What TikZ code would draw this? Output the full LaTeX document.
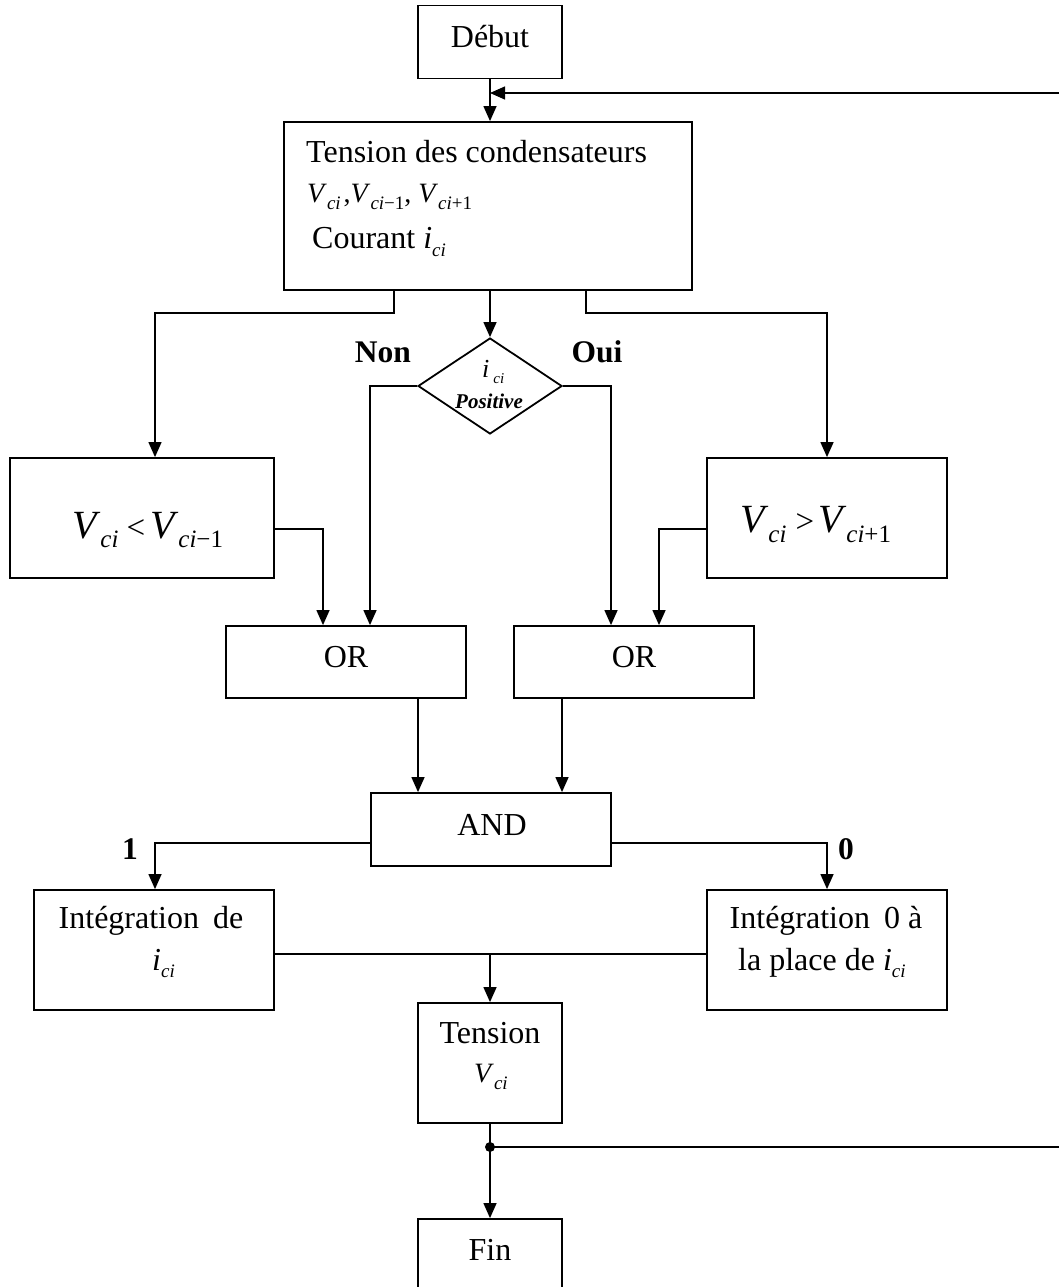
\documentclass[tikz,border=0pt]{standalone}
\usepackage{fontspec}
\setmainfont{Liberation Serif}
\usetikzlibrary{arrows.meta,shapes.geometric}

% lowered subscript: #1 drop (pt), #2 size (pt), #3 text
\newcommand\sbs[3]{\raisebox{-#1pt}{\fontsize{#2pt}{#2pt}\selectfont #3}}

\begin{document}
\begin{tikzpicture}[x=1pt,y=-1pt,
  box/.style={draw, line width=1.8pt, rectangle, inner sep=0pt},
  wire/.style={line width=1.3pt},
  arr/.style={wire, -{Triangle[length=15pt,width=13pt]}},
  txt/.style={inner sep=0pt, anchor=base, font=\fontsize{32pt}{38pt}\selectfont},
  txtw/.style={txt, anchor=base west},
  lbl/.style={inner sep=0pt, font=\fontsize{31.5pt}{38pt}\selectfont\bfseries},
]
\useasboundingbox (0,0) rectangle (1059,1287);
\clip (0,0) rectangle (1059,1287);

% boxes
\node[box, minimum width=144, minimum height=73] (debut) at (490,42) {};
\node[box, minimum width=408, minimum height=168] (main) at (488,206) {};
\node[draw, line width=1.8pt, diamond, inner sep=0pt, minimum width=144, minimum height=96] (dia) at (490,386) {};
\node[box, minimum width=264, minimum height=120] (vl) at (142,518) {};
\node[box, minimum width=240, minimum height=120] (vg) at (827,518) {};
\node[box, minimum width=240, minimum height=72] (orl) at (346,662) {};
\node[box, minimum width=240, minimum height=72] (orr) at (634,662) {};
\node[box, minimum width=240, minimum height=73] (and) at (491,829.5) {};
\node[box, minimum width=240, minimum height=120] (intl) at (154,950) {};
\node[box, minimum width=240, minimum height=120] (intr) at (827,950) {};
\node[box, minimum width=144, minimum height=120] (tv) at (490,1063) {};
\node[box, minimum width=144, minimum height=73] (fin) at (490,1255.5) {};

% texts
\node[txt] (tdebut) at (490,48) {Début};
\node[txtw] (t1) at (306,162) {Tension des condensateurs};
\node[txtw, font=\fontsize{28pt}{34pt}\selectfont] (t2) at (307,202)
  {\textit{V}\sbs{7}{19}{\textit{ci}}\hspace{3pt},\textit{V}\sbs{7}{19}{\textit{ci}−1}, \textit{V}\sbs{7}{19}{\textit{ci}+1}};
\node[txtw] (t3) at (312,248) {Courant \textit{i}\sbs{8}{19}{\textit{ci}}};

\node[inner sep=0pt, anchor=base west, font=\fontsize{26pt}{30pt}\selectfont] (di) at (482,377)
  {\textit{i}\hspace{4pt}\sbs{6}{15}{\textit{ci}}};
\node[inner sep=0pt, anchor=base, font=\fontsize{21pt}{24pt}\selectfont\bfseries\itshape] (dp) at (489,408) {Positive};
\node[lbl] (non) at (383,352) {Non};
\node[lbl] (oui) at (597,352) {Oui};

\node[inner sep=0pt, anchor=base west, font=\fontsize{40pt}{46pt}\selectfont] (tvl) at (72,538)
  {\textit{V}\sbs{9}{25}{\textit{ci}}\hspace{8pt}{\fontsize{33pt}{36pt}\selectfont<}\hspace{5pt}\textit{V}\sbs{9}{25}{\textit{ci}−1}};
\node[inner sep=0pt, anchor=base west, font=\fontsize{40pt}{46pt}\selectfont] (tvg) at (740,532)
  {\textit{V}\sbs{10}{25}{\textit{ci}}\hspace{9pt}{\fontsize{33pt}{36pt}\selectfont>}\hspace{4pt}\textit{V}\sbs{10}{25}{\textit{ci}+1}};

\node[txt] (tor1) at (346,667) {OR};
\node[txt] (tor2) at (634,667) {OR};
\node[txt] (tand) at (492,835) {AND};
\node[lbl] (one) at (130,849) {1};
\node[lbl] (zero) at (846,849) {0};

\node[txt] (ti1) at (151,928) {Intégration\hspace{14pt}de};
\node[txtw] (ti2) at (152,970) {\textit{i}\sbs{7}{19}{\textit{ci}}};
\node[txt] (tr1) at (826,928) {Intégration\hspace{14pt}0 à};
\node[txtw] (tr2) at (738,970) {la place de \textit{i}\sbs{7}{19}{\textit{ci}}};

\node[txt] (tt1) at (490,1043) {Tension};
\node[txtw, font=\fontsize{28pt}{34pt}\selectfont] (tt2) at (474,1082) {\textit{V}\sbs{7}{19}{\textit{ci}}};
\node[txt] (tfin) at (490,1260) {Fin};

% junction points
\coordinate (fbtop) at (1059,93);
\coordinate (lA) at (155,313);
\coordinate (rA) at (827,313);
\coordinate (nL) at (370,387);
\coordinate (oR) at (611,387);
\coordinate (c1) at (323,529);
\coordinate (c2) at (659,529);
\coordinate (c3) at (155,843);
\coordinate (c4) at (827,843);
\coordinate (c5) at (490,954);
\coordinate (dot) at (490,1147);
\coordinate (fbbot) at (1059,1147);

% connectors
\draw[arr] (debut.south) -- (main.north -| debut.south);
\draw[arr] (fbtop) -- (debut.south |- fbtop);
\draw[arr] ([xshift=-94]main.south) |- (lA) -- (lA |- vl.north);
\draw[arr] ([xshift=98]main.south) |- (rA) -- (vg.north);
\draw[arr] (dia.north |- main.south) -- (dia.north);
\draw[arr] (dia.west) -- (dia.west -| nL) -- (nL |- orl.north);
\draw[arr] (dia.east) -- (dia.east -| oR) -- (oR |- orr.north);
\draw[arr] (vl.east |- c1) -- (c1) -- (c1 |- orl.north);
\draw[arr] (vg.west |- c2) -- (c2) -- (c2 |- orr.north);
\draw[arr] ([xshift=72]orl.south) -- ([xshift=72]orl.south |- and.north);
\draw[arr] ([xshift=-72]orr.south) -- ([xshift=-72]orr.south |- and.north);
\draw[arr] (and.west |- c3) -- (c3) -- (c3 |- intl.north);
\draw[arr] (and.east |- c4) -- (c4) -- (c4 |- intr.north);
\draw[wire] (intl.east |- c5) -- (intr.west |- c5);
\draw[arr] (c5) -- (tv.north);
\draw[wire] (tv.south) -- (dot);
\draw[arr] (dot) -- (fin.north);
\draw[wire] (dot) -- (fbbot);
\fill (dot) circle (5);
\end{tikzpicture}
\end{document}
